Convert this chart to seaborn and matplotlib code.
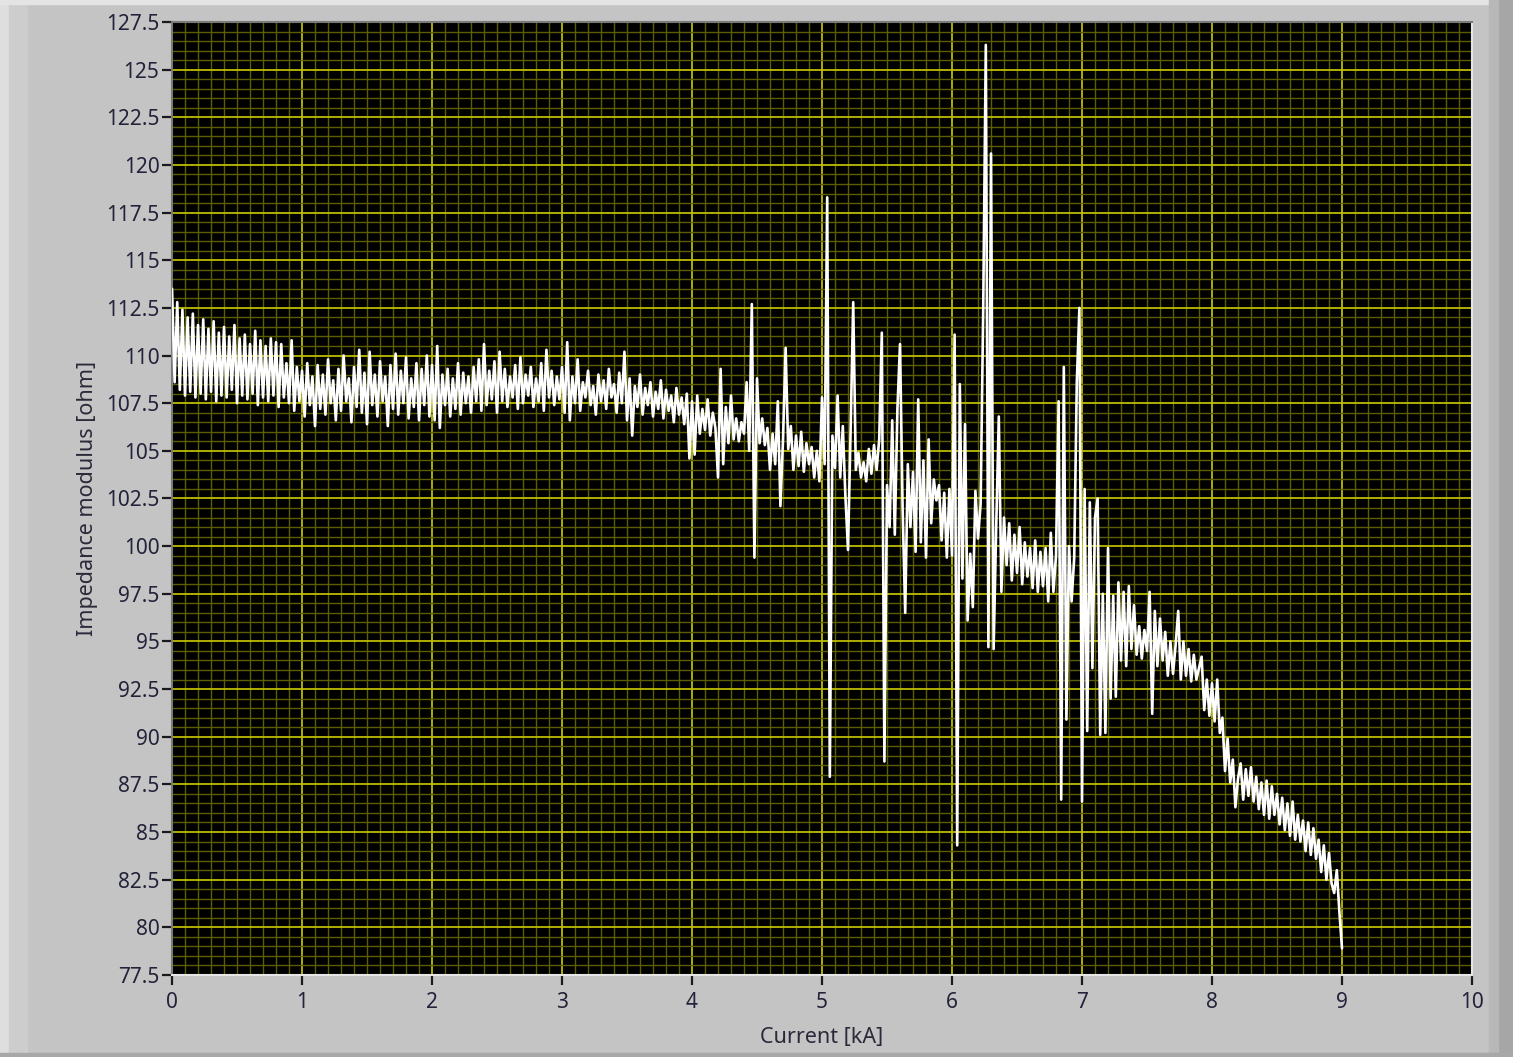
import numpy as np
import pandas as pd
import matplotlib
matplotlib.use("Agg")
import matplotlib.pyplot as plt
from matplotlib.patches import Rectangle
from matplotlib.ticker import MultipleLocator, FixedLocator
import seaborn as sns

# impedance readings, one list per kA, sampled every 0.02 kA
z_0_1 = [113.5, 108.6, 112.8, 108.2, 112.4, 107.9, 112.0, 108.1, 112.2, 107.8,
         111.6, 108.0, 111.9, 107.7, 111.4, 108.1, 111.8, 107.6, 111.2, 107.9,
         111.5, 107.8, 111.0, 108.2, 111.6, 107.5, 110.9, 107.9, 111.1, 107.7,
         110.6, 108.0, 111.3, 107.4, 110.8, 107.8, 110.5, 107.6, 110.9, 107.9,
         110.7, 107.3, 110.6, 107.8, 109.6, 107.5, 110.8, 107.1, 109.4, 107.6]
z_1_2 = [109.2, 106.8, 109.6, 107.4, 108.9, 106.3, 109.5, 107.2, 109.0, 106.9,
         109.8, 107.5, 108.7, 106.6, 109.3, 107.1, 110.0, 107.6, 108.8, 106.5,
         109.4, 107.3, 110.3, 107.0, 109.1, 106.4, 110.2, 107.4, 109.0, 106.8,
         109.7, 107.6, 108.9, 106.3, 109.5, 107.2, 110.1, 106.9, 109.2, 107.5,
         109.9, 106.7, 108.8, 107.3, 109.6, 106.6, 109.3, 107.4, 110.0, 106.8]
z_2_3 = [109.5, 106.6, 110.5, 106.2, 109.0, 107.4, 109.3, 106.8, 108.8, 107.2,
         109.6, 106.9, 109.1, 107.5, 108.9, 107.0, 109.4, 107.6, 109.8, 107.1,
         110.6, 107.4, 109.2, 107.7, 109.7, 107.0, 110.2, 107.6, 109.3, 107.3,
         108.9, 107.8, 109.5, 107.2, 109.9, 107.5, 109.0, 107.9, 109.4, 107.3,
         108.8, 107.6, 109.6, 107.1, 110.3, 107.8, 109.2, 107.4, 108.9, 107.7]
z_3_4 = [109.4, 107.0, 110.7, 106.6, 108.9, 107.5, 109.8, 107.1, 108.6, 107.8,
         109.2, 107.4, 108.4, 106.9, 109.0, 107.6, 108.7, 107.2, 109.3, 107.8,
         108.5, 107.0, 109.1, 107.5, 110.2, 106.6, 108.8, 105.8, 108.4, 107.3,
         109.0, 106.9, 108.3, 107.4, 108.6, 106.8, 108.1, 107.2, 108.7, 106.7,
         108.2, 107.1, 107.9, 106.5, 108.3, 106.9, 107.8, 106.4, 108.0, 104.6]
z_4_5 = [107.6, 104.8, 107.9, 105.9, 107.2, 106.1, 107.7, 105.8, 107.0, 106.2,
         103.6, 109.3, 104.3, 107.3, 105.4, 107.9, 105.6, 106.7, 105.5, 106.5,
         105.9, 108.6, 105.0, 112.7, 99.4, 108.8, 105.4, 106.7, 105.3, 106.2,
         104.0, 105.9, 104.3, 107.6, 102.1, 105.6, 110.4, 105.1, 106.3, 104.0,
         105.8, 104.2, 106.0, 103.9, 105.4, 104.3, 105.2, 103.6, 105.0, 103.4]
z_5_6 = [107.8, 104.3, 118.3, 87.9, 105.8, 104.1, 107.9, 103.6, 106.3, 102.6,
         99.8, 106.1, 112.8, 104.0, 104.9, 103.6, 104.4, 103.4, 105.1, 103.8,
         105.3, 104.0, 105.6, 111.2, 88.7, 103.2, 101.0, 106.6, 100.6, 107.2,
         110.6, 102.0, 96.5, 104.3, 101.0, 103.9, 99.7, 107.7, 100.2, 104.5,
         99.4, 105.6, 101.2, 103.5, 102.4, 103.2, 100.3, 102.8, 99.4, 103.0]
z_6_7 = [99.5, 111.1, 84.3, 108.5, 98.3, 106.4, 96.1, 99.6, 96.8, 102.9,
         100.4, 102.2, 112.4, 126.3, 94.7, 120.6, 94.6, 101.0, 106.8, 97.6,
         101.5, 99.0, 101.2, 98.2, 100.6, 98.6, 101.0, 98.0, 100.2, 98.4,
         99.9, 97.8, 100.3, 97.6, 99.7, 97.9, 99.9, 97.1, 100.7, 97.6,
         99.5, 107.6, 86.7, 109.4, 90.9, 100.0, 97.1, 99.4, 108.6, 112.5]
z_7_8 = [86.6, 103.0, 90.3, 102.3, 93.6, 101.5, 102.5, 90.1, 97.5, 90.2,
         99.9, 92.0, 97.4, 92.1, 98.1, 94.0, 97.6, 93.7, 97.9, 94.6,
         96.9, 94.3, 95.8, 94.1, 95.6, 94.5, 97.6, 91.2, 96.6, 93.7,
         96.2, 94.0, 95.5, 93.2, 95.0, 93.3, 94.8, 96.6, 93.0, 95.0,
         93.2, 94.6, 92.9, 94.3, 93.0, 93.6, 94.2, 91.4, 93.0, 91.1]
z_8_9 = [92.8, 90.8, 93.0, 90.2, 91.0, 88.2, 89.9, 87.6, 88.8, 86.3,
         87.8, 88.6, 86.7, 88.3, 86.9, 88.4, 86.6, 87.9, 86.2, 87.6,
         85.9, 87.7, 85.7, 87.4, 85.9, 87.0, 85.4, 86.8, 85.1, 86.5,
         84.8, 86.6, 84.6, 85.9, 84.5, 85.6, 84.0, 85.5, 83.8, 85.2,
         83.6, 84.6, 82.9, 84.3, 82.5, 83.9, 82.3, 81.8, 83.0, 80.8,
         78.9]

step_ka = 0.02
x_ticks = list(range(0, 11))
y_ticks = [77.5, 80, 82.5, 85, 87.5, 90, 92.5, 95, 97.5, 100, 102.5, 105,
           107.5, 110, 112.5, 115, 117.5, 120, 122.5, 125, 127.5]
y_tick_labels = ["77.5", "80", "82.5", "85", "87.5", "90", "92.5", "95", "97.5",
                 "100", "102.5", "105", "107.5", "110", "112.5", "115", "117.5",
                 "120", "122.5", "125", "127.5"]

z = z_0_1 + z_1_2 + z_2_3 + z_3_4 + z_4_5 + z_5_6 + z_6_7 + z_7_8 + z_8_9
df = pd.DataFrame({"current": np.arange(len(z)) * step_ka, "impedance": z})

sns.set_theme(style="ticks")
plt.rcParams["font.family"] = ["Noto Sans", "DejaVu Sans"]

fig = plt.figure(figsize=(15.13, 10.57), dpi=100, facecolor="#c4c4c4")

# LabVIEW-like panel frame
fig.patches.append(Rectangle((0, 0), 0.006, 1, transform=fig.transFigure,
                             color="#dedede", zorder=0))
fig.patches.append(Rectangle((0.006, 0), 0.012, 1, transform=fig.transFigure,
                             color="#cdcdcd", zorder=0))
fig.patches.append(Rectangle((0, 0.996), 1, 0.004, transform=fig.transFigure,
                             color="#e4e4e4", zorder=0))
fig.patches.append(Rectangle((0.990, 0), 0.010, 1, transform=fig.transFigure,
                             color="#a6a6a6", zorder=0))
fig.patches.append(Rectangle((0.984, 0), 0.006, 1, transform=fig.transFigure,
                             color="#b8b8b8", zorder=0))
fig.patches.append(Rectangle((0, 0), 1, 0.004, transform=fig.transFigure,
                             color="#a8a8a8", zorder=0))

ax = fig.add_axes([0.1137, 0.0776, 0.8592, 0.9016])
ax.set_facecolor("black")

sns.lineplot(data=df, x="current", y="impedance", ax=ax, color="white",
             linewidth=1.9, estimator=None, sort=False, zorder=3)

ax.set_xlim(0, 10)
ax.set_ylim(77.5, 127.5)
ax.xaxis.set_major_locator(FixedLocator(x_ticks))
ax.yaxis.set_major_locator(FixedLocator(y_ticks))
ax.set_yticklabels(y_tick_labels)
ax.xaxis.set_minor_locator(MultipleLocator(0.1))
ax.yaxis.set_minor_locator(MultipleLocator(0.5))

ax.grid(which="minor", color="#5c5c00", linewidth=1.0, zorder=1)
ax.grid(which="major", color="#bcbc00", linewidth=1.3, zorder=2)
ax.set_axisbelow(True)

ax.tick_params(which="major", length=7, width=1.6, color="#1a1a1a",
               labelsize=15, labelcolor="#22223a", direction="out", pad=2)
ax.tick_params(axis="x", which="major", pad=5)
ax.tick_params(which="minor", length=0)

for side in ["left", "top"]:
    ax.spines[side].set_color("#7a7a7a")
    ax.spines[side].set_linewidth(1.5)
for side in ["right", "bottom"]:
    ax.spines[side].set_color("#e6e6e6")
    ax.spines[side].set_linewidth(1.5)

ax.set_xlabel("Current [kA]", fontsize=15.5, color="#2a2a3a", labelpad=10)
ax.set_ylabel("Impedance modulus [ohm]", fontsize=15.5, color="#2a2a3a",
              labelpad=6)

fig.savefig("out.png", dpi=100, facecolor=fig.get_facecolor())
